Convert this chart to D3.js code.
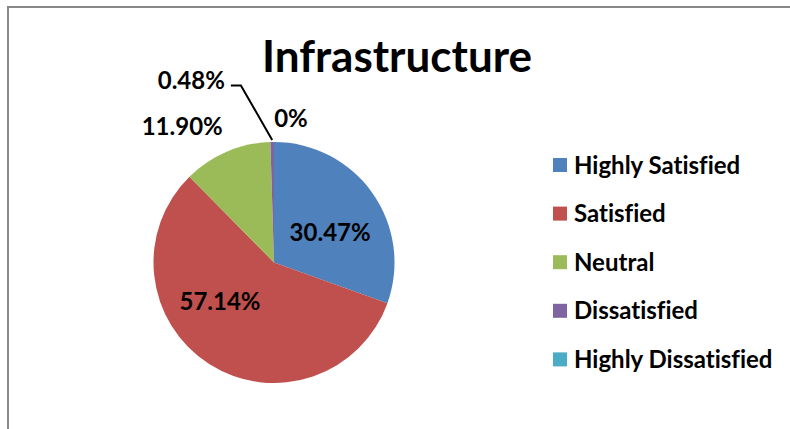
<!DOCTYPE html>
<html>
<head>
<meta charset="utf-8">
<script src="https://cdn.jsdelivr.net/npm/d3@7"></script>
<style>
  html, body { margin: 0; padding: 0; background: #fff; }
  svg { display: block; }
  text { font-family: Lato, "Open Sans", sans-serif; font-weight: bold; fill: #000;
         font-variant-ligatures: none; font-feature-settings: "liga" 0, "clig" 0; }
</style>
</head>
<body>
<svg id="chart" width="790" height="429"></svg>
<script>
const title = "Infrastructure";
const categories = ["Highly Satisfied", "Satisfied", "Neutral", "Dissatisfied", "Highly Dissatisfied"];
const values = [30.47, 57.14, 11.90, 0.48, 0];
const labels = ["30.47%", "57.14%", "11.90%", "0.48%", "0%"];
const colors = ["#4F81BD", "#C0504D", "#9BBB59", "#8064A2", "#4BACC6"];

const svg = d3.select("#chart");
const W = 790, H = 429;

// frame
svg.append("rect").attr("x", 8).attr("y", 7).attr("width", W + 20).attr("height", H + 20)
  .attr("fill", "#fff").attr("stroke", "#888").attr("stroke-width", 2);

// title
svg.append("text").attr("x", 397).attr("y", 72).attr("text-anchor", "middle")
  .style("font-size", "44px").text(title);

const cx = 274, cy = 262.5, R = 120.5;
const g = svg.append("g").attr("transform", `translate(${cx},${cy})`);

const pie = d3.pie().sort(null).value(d => d.v);
const data = categories.map((c, i) => ({ c, v: values[i], label: labels[i], color: colors[i] }));
const arcs = pie(data);
const arc = d3.arc().innerRadius(0).outerRadius(R);

g.selectAll("path.slice").data(arcs).enter().append("path")
  .attr("class", "slice")
  .attr("d", arc)
  .attr("fill", d => d.data.color);

// label placement (inside for big slices, outside for small ones)
const inArc = d3.arc().innerRadius(65).outerRadius(65);
const outArc = d3.arc().innerRadius(R + 20).outerRadius(R + 20);
const labelNudge = [
  { arc: inArc, dx: 3, dy: 8, anchor: "middle" },
  { arc: inArc, dx: -19, dy: -16, anchor: "middle" },
  { arc: outArc, dx: 4, dy: -7, anchor: "end" },
  { arc: outArc, dx: -47, dy: -41, anchor: "end" },
  { arc: outArc, dx: 17, dy: -3, anchor: "middle" }
];
const labelFont = 24;

arcs.forEach((a, i) => {
  const n = labelNudge[i];
  const [x, y] = n.arc.centroid(a);
  const lx = x + n.dx, ly = y + n.dy;
  g.append("text").attr("x", lx).attr("y", ly).attr("dy", "0.35em")
    .attr("text-anchor", n.anchor).style("font-size", labelFont + "px").text(a.data.label);
  if (i === 3) {
    // leader line from label to slice edge
    const mid = (a.startAngle + a.endAngle) / 2;
    const ex = Math.sin(mid) * R, ey = -Math.cos(mid) * R;
    const sx = lx + 6, sy = ly + 4.5;
    g.append("polyline")
      .attr("points", [[sx, sy], [sx + 10, sy], [ex, ey - 2]].map(p => p.join(",")).join(" "))
      .attr("fill", "none").attr("stroke", "#000").attr("stroke-width", 2);
  }
});

// legend
const legend = svg.append("g").attr("transform", "translate(553,165)");
const rowH = 48.6;
const items = legend.selectAll("g").data(data).enter().append("g")
  .attr("transform", (d, i) => `translate(0,${i * rowH})`);
items.append("rect").attr("x", 0).attr("y", -7).attr("width", 14).attr("height", 14)
  .attr("fill", d => d.color);
items.append("text").attr("x", 21).attr("y", 0).attr("dy", "0.36em")
  .style("font-size", labelFont + "px").text(d => d.c);
</script>
</body>
</html>
